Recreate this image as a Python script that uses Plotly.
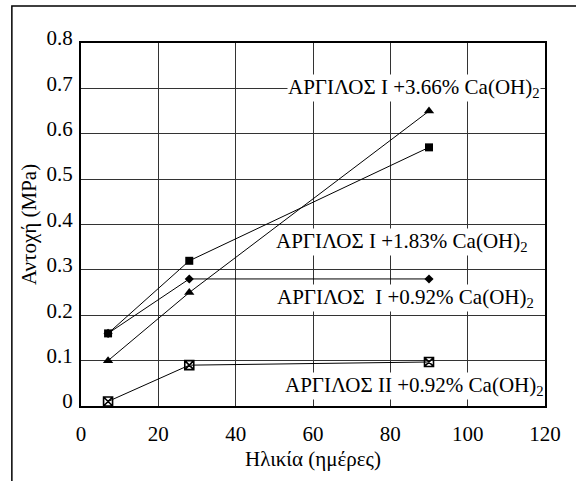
import plotly.graph_objects as go

ages = [7, 28, 90]
s366 = [0.10, 0.25, 0.65]
s183 = [0.16, 0.32, 0.57]
s092 = [0.16, 0.28, 0.28]
s2_092 = [0.01, 0.09, 0.097]

labels = [
    "ΑΡΓΙΛΟΣ Ι +3.66% Ca(OH)<sub>2</sub>",
    "ΑΡΓΙΛΟΣ Ι +1.83% Ca(OH)<sub>2</sub>",
    "ΑΡΓΙΛΟΣ&nbsp; Ι +0.92% Ca(OH)<sub>2</sub>",
    "ΑΡΓΙΛΟΣ ΙΙ +0.92% Ca(OH)<sub>2</sub>",
]
label_x = [86.1, 83.1, 83.9, 86.2]
label_y = [0.70, 0.361, 0.239, 0.043]

FONT = "Liberation Serif, Times New Roman, serif"

fig = go.Figure()
series = [
    (s366, "triangle-up", 9, 0),
    (s183, "square", 8, 0),
    (s092, "diamond", 7, 0),
    (s2_092, "square-x-open", 9, 1.6),
]
for ys, sym, sz, lw in series:
    fig.add_trace(go.Scatter(
        x=ages, y=ys, mode="lines+markers",
        line=dict(color="black", width=1),
        marker=dict(symbol=sym, size=sz, color="black",
                    line=dict(color="black", width=lw)),
        showlegend=False, cliponaxis=False,
    ))

for t, x, y in zip(labels, label_x, label_y):
    fig.add_annotation(x=x, y=y, text=t, showarrow=False,
                       font=dict(family=FONT, size=21, color="black"),
                       bgcolor="white", borderpad=0)

fig.add_shape(type="rect", xref="paper", yref="paper",
              x0=-0.149, x1=1.4, y0=-0.5, y1=1.102,
              line=dict(color="black", width=1.5), layer="below")

fig.update_layout(
    width=576, height=481,
    margin=dict(l=81, r=31, t=43, b=75),
    paper_bgcolor="white", plot_bgcolor="white",
    font=dict(family=FONT, size=20, color="black"),
    xaxis=dict(range=[0, 120], dtick=20, showgrid=True, gridcolor="#333",
               gridwidth=1, zeroline=False, showline=True, linecolor="black",
               linewidth=2, mirror=True, ticks="",
               tickfont=dict(family=FONT, size=21, color="black"),
               ticklabelstandoff=8,
               title=dict(text="Ηλικία (ημέρες)",
                          font=dict(family=FONT, size=21, color="black"),
                          standoff=6)),
    yaxis=dict(range=[0, 0.8], dtick=0.1, showgrid=True, gridcolor="#333",
               gridwidth=1, zeroline=False, showline=True, linecolor="black",
               linewidth=2, mirror=True, ticks="",
               tickfont=dict(family=FONT, size=21, color="black"),
               ticklabelshift=-5, ticklabelstandoff=2,
               title=dict(text="Αντοχή (MPa)",
                          font=dict(family=FONT, size=21, color="black"),
                          standoff=4)),
)
fig.update_yaxes(tickvals=[0, 0.1, 0.2, 0.3, 0.4, 0.5, 0.6, 0.7, 0.8],
                 ticktext=["0", "0.1", "0.2", "0.3", "0.4", "0.5", "0.6", "0.7", "0.8"])

fig.write_html("out.html")
